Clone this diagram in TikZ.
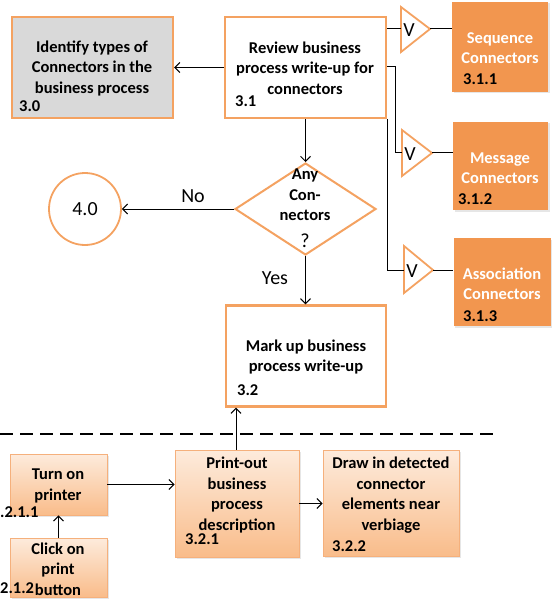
\documentclass[tikz,border=0pt]{standalone}
\usepackage{fontspec}
\setmainfont{Carlito}
\usetikzlibrary{arrows.meta,shapes.geometric,shadows}
\definecolor{orng}{HTML}{F4A261}
\definecolor{orngfill}{HTML}{F2964F}
\definecolor{grayfill}{HTML}{D9D9D9}
\definecolor{peachtop}{HTML}{FDEBDC}
\definecolor{peachbot}{HTML}{F9BC8A}
\definecolor{peachline}{HTML}{F5B07C}
\begin{document}
\begin{tikzpicture}[x=1pt,y=-1pt,
  font=\fontsize{16.5}{20.5}\selectfont\bfseries,
  wbox/.style={draw=orng,line width=2.4pt,fill=white,inner sep=0},
  gbox/.style={draw=orng,line width=2.4pt,fill=grayfill,inner sep=0},
  obox/.style={fill=orngfill,inner sep=0,drop shadow={shadow xshift=1.5pt,shadow yshift=-1.5pt,opacity=0.2}},
  pbox/.style={draw=peachline,line width=0.8pt,top color=peachtop,bottom color=peachbot,inner sep=0,drop shadow={shadow xshift=1.5pt,shadow yshift=-1.5pt,opacity=0.2}},
  txt/.style={align=center,inner sep=0},
  wtxt/.style={align=center,inner sep=0,text=white},
  lbl/.style={anchor=west,inner sep=0},
  reg/.style={inner sep=0,font=\fontsize{20}{22}\selectfont},
  tri/.style={draw=orng,line width=1.8pt,fill=white,line join=miter},
  conn/.style={draw=black,line width=1pt},
  arr/.style={conn,-{Straight Barb[length=5pt,width=10pt]}},
]
\useasboundingbox (0,0) rectangle (557,604);

% top row boxes
\node[gbox,minimum width=161,minimum height=101] (b30) at (92.5,67.5) {};
\node[txt] (t30) at (92,68) {Identify types of\\Connectors in the\\business process};
\node[lbl] (l30) at (19,106) {3.0};

\node[wbox,minimum width=161,minimum height=101] (b31) at (305.5,67.5) {};
\node[txt] (t31) at (305,68) {Review business\\process write-up for\\connectors};
\node[lbl] (l31) at (235,101) {3.1};

% orange connector boxes
\node[obox,minimum width=96,minimum height=90] (b311) at (500,47) {};
\node[wtxt] (t311) at (500,48) {Sequence\\Connectors};
\node[lbl] (l311) at (463,79) {3.1.1};

\node[obox,minimum width=95,minimum height=88] (b312) at (500.5,166) {};
\node[wtxt] (t312) at (500,168) {Message\\Connectors};
\node[lbl] (l312) at (458,199) {3.1.2};

\node[obox,minimum width=97,minimum height=88] (b313) at (502,282) {};
\node[wtxt] (t313) at (502,284) {Association\\Connectors};
\node[lbl] (l313) at (463,316) {3.1.3};

% triangles
\draw[tri] (401,7) -- (430,29) -- (401,52) -- cycle;
\coordinate (tr1w) at (401,29);
\coordinate (tr1e) at (430,29);
\node[reg] (v1) at (409,30) {V};

\draw[tri] (402,130) -- (432,153) -- (402,176) -- cycle;
\coordinate (tr2w) at (402,153);
\coordinate (tr2e) at (432,153);
\node[reg] (v2) at (410,154) {V};

\draw[tri] (404,246) -- (433,270) -- (404,293) -- cycle;
\coordinate (tr3w) at (404,270);
\coordinate (tr3e) at (433,270);
\node[reg] (v3) at (412,271) {V};

% connectors from 3.1 to triangles
\path[conn] (b31.east |- tr1w) -- (tr1w);
\path[conn] (tr1e) -- (b311.west |- tr1e);
\coordinate (c2a) at (395,67);
\path[conn] (b31.east |- c2a) -- (c2a) -- (c2a |- tr2w) -- (tr2w);
\path[conn] (tr2e) -- (b312.west |- tr2e);
\path[conn] (b31.south east) -- (b31.south east |- tr3w) -- (tr3w);
\path[conn] (tr3e) -- (b313.west |- tr3e);

% arrow 3.1 -> 3.0
\path[arr] (b31.west) -- (b30.east);

% decision diamond
\node[diamond,draw=orng,line width=2pt,fill=white,minimum width=141,minimum height=92,inner sep=0] (dia) at (305.5,209) {};
\node[txt] (tdia) at (305,195) {Any\\Con-\\nectors};
\node[reg] (qm) at (305,241) {?};
\path[arr] (b31.south -| dia.north) -- (dia.north);

% 4.0 circle
\node[circle,draw=orng,line width=1.8pt,minimum size=72,inner sep=0,font=\fontsize{20}{22}\selectfont] (c40) at (85,209) {4.0};
\path[arr] (dia.west) -- (c40.east);
\node[reg] (no) at (193,196) {No};

% 3.2
\node[wbox,minimum width=160,minimum height=101] (b32) at (306,356) {};
\node[txt] (t32) at (306,357) {Mark up business\\process write-up};
\node[lbl] (l32) at (237,390) {3.2};
\path[arr] (dia.south) -- (dia.south |- b32.north);
\node[reg] (yes) at (275,278) {Yes};

% dashed separator
\coordinate (dl) at (0,434);
\coordinate (dr) at (497,434);
\path[draw=black,line width=1.3pt,dash pattern=on 13pt off 7pt] (dl) -- (dr);

% bottom boxes
\node[pbox,minimum width=97,minimum height=61] (b3211) at (58.5,484.5) {};
\node[txt] (t3211) at (58,486) {Turn on\\printer};
\node[lbl] (l3211) at (0,512) {.2.1.1};

\node[pbox,minimum width=97,minimum height=59] (b3212) at (58.5,567.5) {};
\node[txt] (t3212) at (58,569) {Click on\\print\\button};
\node[lbl] (l3212) at (0,588) {2.1.2};

\node[pbox,minimum width=124,minimum height=107] (b321) at (237,503.5) {};
\node[txt] (t321) at (237,495) {Print-out\\business\\process\\description};
\node[lbl] (l321) at (185,539) {3.2.1};

\node[pbox,minimum width=136,minimum height=106] (b322) at (391,503.5) {};
\node[txt] (t322) at (391,495) {Draw in detected\\connector\\elements near\\verbiage};
\node[lbl] (l322) at (332,546) {3.2.2};

% bottom connectors
\coordinate (up) at (236,450);
\path[arr] (b321.north -| up) -- (b32.south -| up);
\path[arr] (b3212.north) -- (b3211.south);
\path[arr] (b3211.east) -- (b3211.east -| b321.west);
\path[arr] (b321.east) -- (b322.west);
\end{tikzpicture}
\end{document}
